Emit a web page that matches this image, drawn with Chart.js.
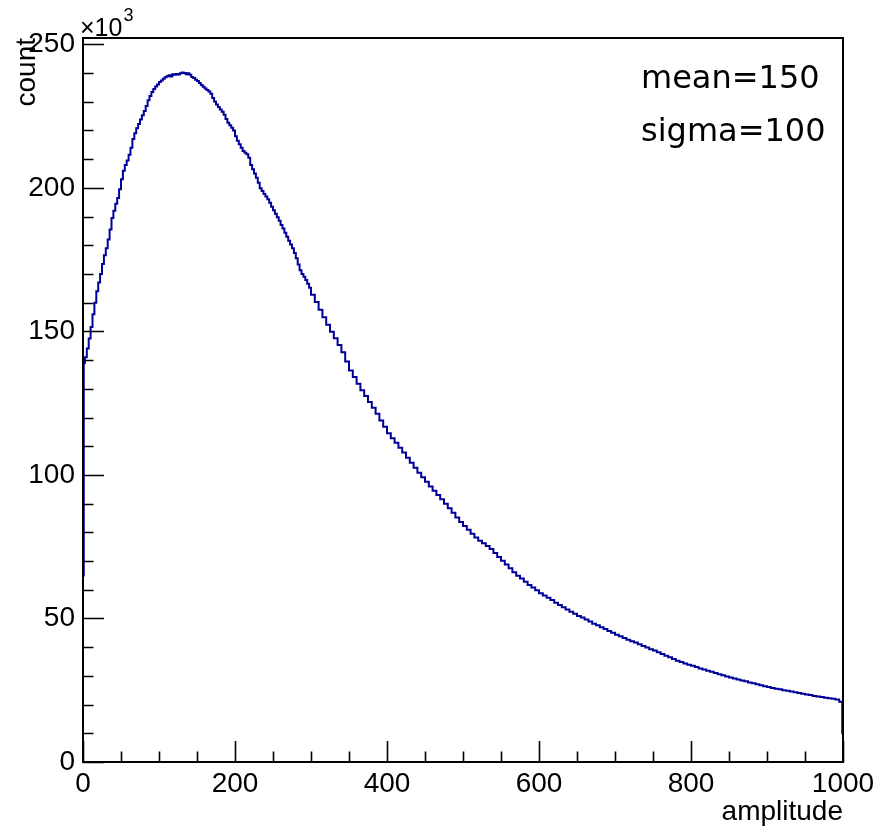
<!DOCTYPE html>
<html><head><meta charset="utf-8">
<script src="https://cdn.jsdelivr.net/npm/chart.js@4/dist/chart.umd.min.js"></script>
<style>html,body{margin:0;padding:0;background:#fff}#wrap{width:886px;height:829px;position:relative}</style>
</head><body><div id="wrap"><canvas id="c" width="886" height="829"></canvas></div>
<script>
// ---- data (histogram of amplitude; counts in thousands) ----
// bin edges: narrow edge bins, 2.5-wide bins up to 300, 5-wide bins after
const binEdges = [0, 1];
for (let e = 2.5; e <= 300; e += 2.5) binEdges.push(e);
for (let e = 305; e <= 995; e += 5) binEdges.push(e);
binEdges.push(999, 1000);

const countThousands = [
  65, 139,
  // 2.5 .. 300 (width 2.5)
  141, 144, 147.5, 151.5, 156, 160, 164, 167, 170, 173.5,
  176.5, 179, 182, 185.5, 189.5, 192, 194.5, 196.5, 199.5, 203,
  206, 208, 209.5, 211.5, 214, 217, 219, 220.8, 222.2, 223.8,
  225.3, 226.8, 228.5, 230.5, 232, 233.4, 234.4, 235.3, 236, 236.9,
  237.4, 238, 238.5, 238.9, 239.2, 238.8, 239.6, 239.4, 239.7, 239.5,
  239.9, 240.2, 240, 239.6, 239.9, 239.4, 238.6, 238.3, 237.7, 237.2,
  236.5, 235.8, 235.2, 234.6, 234.1, 233.6, 232.8, 231.3, 230.1, 229,
  228.2, 227.3, 226.5, 225.5, 224, 222.7, 221.8, 220.9, 220, 218,
  216.4, 215.2, 214, 212.8, 212.2, 211.7, 210.5, 208, 206.5, 205,
  203.5, 201.8, 199.9, 198.9, 197.9, 197, 196, 194.8, 193.4, 192.2,
  191, 189.8, 188.5, 187.1, 185.8, 184.4, 183, 181.6, 180.3, 179,
  177.3, 175.5, 173.3, 171.3, 170, 169, 167.9, 166.6, 165.2,
  // 300 .. 995 (width 5)
  162.8, 160.2, 157.5, 154.9, 152.3, 149.9, 147.6, 145.3, 142.7, 139.5, 136.4, 134.1, 131.8, 129.5, 127.5, 125.4, 123.4, 121.3, 119, 116.8,
  114.5, 112.8, 111.2, 109.5, 107.8, 106, 104.2, 102.5, 100.8, 99.2, 97.6, 96, 94.5, 93, 91.5, 90, 88.4, 86.8, 85.2, 83.6,
  82.2, 80.9, 79.5, 78.2, 77.1, 76.2, 75.2, 74.2, 72.8, 71.4, 70.1, 68.8, 67.5, 66.1, 64.9, 63.9, 62.8, 61.7, 60.8, 59.8,
  58.8, 58, 57.2, 56.4, 55.5, 54.7, 53.9, 53.1, 52.3, 51.6, 50.9, 50.3, 49.6, 48.9, 48.2, 47.6, 46.9, 46.3, 45.6, 45,
  44.3, 43.8, 43.2, 42.6, 42.1, 41.6, 41, 40.4, 39.9, 39.3, 38.8, 38.2, 37.6, 37, 36.5, 35.9, 35.3, 34.8, 34.3, 33.9,
  33.5, 33.1, 32.6, 32.2, 31.8, 31.4, 31, 30.6, 30.2, 29.8, 29.4, 29.1, 28.7, 28.4, 28.1, 27.7, 27.4, 27.1, 26.7, 26.4,
  26.1, 25.8, 25.5, 25.3, 25, 24.8, 24.6, 24.3, 24, 23.8, 23.5, 23.3, 23, 22.8, 22.6, 22.4, 22.2, 22, 21.8,
  // 995 .. 1000
  21, 10
];

const xTickValues = [0, 200, 400, 600, 800, 1000];
const yTickValues = [0, 50, 100, 150, 200, 250];
const yAxisMax = 252.2;
const xAxisTitle = 'amplitude';
const yAxisTitle = 'count';
const yExponentText = '×10';
const yExponentPower = '3';
const statLines = ['mean=150', 'sigma=100'];

// ---- build points: left bin edges + closing point at the right edge ----
const points = binEdges.map((e, i) => ({
  x: e,
  y: countThousands[Math.min(i, countThousands.length - 1)]
}));

const LABEL_FONT = '"Liberation Sans", Arial, sans-serif';

const frameTicks = {
  id: 'frameTicks',
  afterDatasetsDraw(chart) {
    const {ctx, chartArea: a, scales: {x, y}} = chart;
    ctx.save();
    ctx.strokeStyle = '#000';
    ctx.lineWidth = 1.6;
    ctx.beginPath();
    for (let v = 0; v <= 1000; v += 50) {
      const px = Math.round(x.getPixelForValue(v)) + 0.5;
      const len = (v % 200 === 0) ? 21 : 10.5;
      ctx.moveTo(px, a.bottom); ctx.lineTo(px, a.bottom - len);
    }
    for (let v = 0; v <= 250; v += 10) {
      const py = Math.round(y.getPixelForValue(v)) + 0.5;
      const len = (v % 50 === 0) ? 21 : 10.5;
      ctx.moveTo(a.left, py); ctx.lineTo(a.left + len, py);
    }
    ctx.stroke();
    ctx.lineWidth = 2;
    ctx.strokeRect(a.left, a.top, a.right - a.left, a.bottom - a.top);

    // exponent label
    ctx.fillStyle = '#000';
    ctx.textBaseline = 'alphabetic';
    ctx.textAlign = 'left';
    ctx.font = 'normal 25px "Liberation Sans"';
    ctx.fillText(yExponentText, a.left - 3, a.top - 2);
    const w = ctx.measureText(yExponentText).width;
    ctx.font = 'normal 18px "Liberation Sans"';
    ctx.fillText(yExponentPower, a.left - 3 + w + 1, a.top - 17);

    // stats text
    ctx.font = '32px "DejaVu Sans"';
    ctx.fillText(statLines[0], 641, 88);
    ctx.fillText(statLines[1], 641, 141);
    ctx.restore();
  }
};

new Chart(document.getElementById('c'), {
  type: 'line',
  data: {datasets: [{data: points, borderColor: '#000099', borderWidth: 2, pointRadius: 0, stepped: true, fill: false}]},
  options: {
    responsive: false, animation: false, devicePixelRatio: 1,
    layout: {padding: {left: 0, right: 43, top: 38, bottom: 0}},
    plugins: {legend: {display: false}, tooltip: {enabled: false}},
    scales: {
      x: {
        type: 'linear', min: 0, max: 1000,
        afterBuildTicks: s => { s.ticks = xTickValues.map(v => ({value: v})); },
        afterFit: s => { s.height = 67; },
        grid: {display: false, drawTicks: false}, border: {display: false},
        ticks: {color: '#000', font: {family: LABEL_FONT, size: 28}, padding: 5, maxRotation: 0, autoSkip: false, callback: v => String(v)},
        title: {display: true, text: xAxisTitle, align: 'end', color: '#000', font: {family: LABEL_FONT, size: 28, lineHeight: 1.2}, padding: {top: 0, bottom: 0}}
      },
      y: {
        type: 'linear', min: 0, max: yAxisMax,
        afterBuildTicks: s => { s.ticks = yTickValues.map(v => ({value: v})); },
        afterFit: s => { s.width = 83; },
        grid: {display: false, drawTicks: false}, border: {display: false},
        ticks: {color: '#000', font: {family: LABEL_FONT, size: 28}, padding: 8, autoSkip: false, callback: v => String(v)},
        title: {display: true, text: yAxisTitle, align: 'end', color: '#000', font: {family: LABEL_FONT, size: 28, lineHeight: 1.2}, padding: {top: 10, bottom: 0}}
      }
    }
  },
  plugins: [frameTicks]
});
</script>
</body></html>
